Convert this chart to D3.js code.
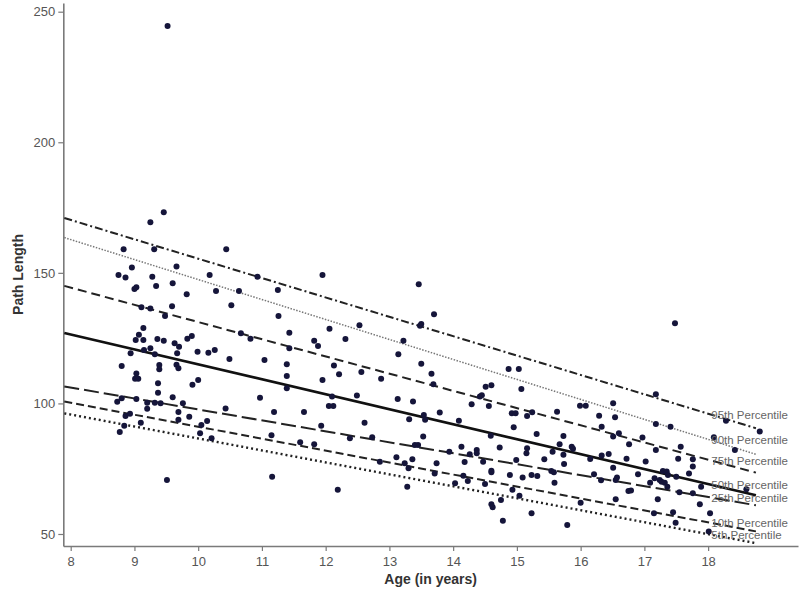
<!DOCTYPE html>
<html>
<head>
<meta charset="utf-8">
<script src="https://cdn.jsdelivr.net/npm/d3@7"></script>
<style>
    body { margin: 0; background: #fff; }
    svg { display: block; font-family: "Liberation Sans", Arial, sans-serif; }
</style>
</head>
<body>
<svg id="chart" width="800" height="596"></svg>
<script>
// percentile regression lines: value at the left edge (age 7.9) and at the right end (age 18.75)
var percentiles = ["95th", "90th", "75th", "50th", "25th", "10th", "5th"];
var lineStartAge = 7.9;
var lineEndAge = 18.75;
var lineStart = [171, 163.5, 145, 127, 106.5, 100.7, 96.2];
var lineEnd = [90.5, 80.5, 73.5, 64.8, 61, 51, 46.5];
var labelAge = 18.05;

var xTicks = [8, 9, 10, 11, 12, 13, 14, 15, 16, 17, 18];
var yTicks = [50, 100, 150, 200, 250];

// observed subjects: [age, path length]
var points = [
    [9.52,244.5],[9.46,173.2],[9.25,169.4],[8.83,159],[9.31,159],[10.44,159],
    [8.96,152.0],[9.66,152.4],[8.75,149.2],[8.86,148.2],[9.28,148.5],[10.18,149.2],[10.93,148.5],
    [9.60,146.0],[9.00,143.8],[9.03,144.5],[9.34,145.0],[9.82,141.8],[10.28,143.0],[10.64,143.0],
    [11.25,143.4],[10.52,137.6],[9.59,137.2],[9.11,136.8],[9.25,136.3],[9.48,133.5],[11.26,133.5],
    [9.14,128.9],[9.07,126.3],[9.02,124.3],[9.14,124.3],[9.36,124.7],[9.46,124.0],[9.63,123.0],
    [9.70,121.7],[9.83,124.8],[9.90,125.8],[9.25,121.1],[9.15,120.5],[8.94,119.2],[9.32,118.8],
    [9.67,119.2],[9.99,119.8],[10.16,119.4],[10.26,120.5],[11.43,127.1],[11.43,121.1],[10.82,124.8],
    [10.67,126.9],[10.49,117.0],[11.04,116.6],[8.80,114.3],[9.39,114.7],[9.39,113.1],[9.66,114.8],
    [9.69,113.5],[11.39,115.0],[9.03,111.5],[9.01,109.4],[9.06,109.4],[11.39,110.5],[9.37,107.7],
    [9.37,104.1],[10.00,109.0],[9.91,107.1],[11.39,105.8],[10.97,102.2],[9.60,102.4],[9.03,101.7],
    [8.80,102.0],
    [8.73,100.6],[9.20,100.3],[9.20,98.0],[9.32,100.3],[9.41,100.1],[9.76,100.1],[9.69,96.7],
    [9.69,93.7],[9.86,94.9],[8.86,95.2],[8.93,96.0],[8.84,91.4],[8.77,89.1],[9.10,92.6],[10.05,91.7],
    [10.14,93.3],[10.03,88.6],[10.21,86.7],[10.43,98.1],[9.51,70.7],[11.19,96.7],[11.66,96.7],
    [11.15,87.8],[11.60,85.1],[11.16,71.9],
    [11.95,149.2],[13.46,145.6],[13.70,134.1],[12.53,129.9],[13.50,130.4],[13.48,129.7],[12.06,128.6],
    [11.82,124.0],[11.88,122.0],[12.31,124.7],[13.22,124.0],[13.14,118.8],[12.13,114.5],[12.21,111.2],
    [12.56,112.0],[13.50,115.2],[13.66,111.4],[13.69,107.3],[12.87,109.4],[11.95,109.0],[14.87,113.2],
    [15.03,113.2],[14.51,106.4],[14.60,107.0],[15.07,105.5],[14.42,102.6],[14.45,103.1],[12.49,103.0],
    [12.10,102.6],[12.05,99.0],[12.12,99.0],[13.13,101.7],[13.37,100.7],[14.29,99.7],[14.56,99.0],
    [14.92,96.2],[14.98,96.2],[15.16,95.2],[15.24,96.6],[13.54,95.6],[13.56,93.7],[13.79,96.5],
    [13.31,93.9],[14.09,93.4],[12.61,92.6],[11.93,91.4],[14.95,90.9],[15.31,88.3],[14.59,87.6],
    [13.53,87.3],[12.38,86.7],[12.73,87.0],[11.82,84.4],[13.40,84.1],[13.45,84.1],[14.13,83.4],
    [14.73,83.1],[15.16,82.8],
    [15.15,80.9],[14.37,82.2],[14.37,80.9],[14.26,80.5],[13.94,81.5],[14.47,77.7],[14.18,77.6],
    [13.74,77.1],[13.36,78.6],[13.11,79.4],[12.85,77.7],[13.24,77.1],[13.30,75.2],[13.71,73.2],
    [13.28,68.1],[12.19,66.9],[14.03,69.4],[14.16,72.3],[14.23,70.3],[14.50,69.1],[14.60,74.2],
    [14.60,73.6],[14.89,72.6],[15.09,71.6],[14.99,78.3],[15.23,72.6],[15.32,72.2],[15.43,78.6],
    [14.93,66.9],[15.04,64.6],[14.60,61.4],[14.62,60.2],[14.75,63.0],[14.78,55.1],[15.23,57.9],
    [17.48,130.7],[17.18,103.5],[15.99,99.1],[16.08,99.1],[16.51,100.1],[16.29,95.3],[16.54,94.7],
    [15.63,96.8],[17.18,92.1],[17.41,91.1],[18.28,93.4],[16.33,91.1],[15.73,87.5],[16.60,88.6],
    [16.51,87.3],[16.97,86.9],[16.76,84.4],[15.67,84.4],[15.86,83.4],[15.88,82.6],[17.57,83.4],
    [17.18,82.2],[15.56,81.5],[18.09,87.0],[18.42,82.2],[18.81,89.2],[15.73,80.3],
    [17.76,78.6],[17.76,75.8],[17.70,73.2],[16.33,80.1],[16.44,80.6],[16.72,78.8],[17.02,77.8],
    [17.53,78.8],[16.15,78.7],[16.51,75.4],[15.74,76.8],[15.54,74.1],[15.58,73.6],[16.21,72.9],
    [16.90,72.9],[17.50,71.9],[17.29,74.1],[17.35,73.9],[17.37,72.6],[17.24,70.7],[17.27,70.0],
    [16.32,70.6],[16.55,70.7],[16.57,71.6],[17.09,69.6],[17.32,69.6],[17.36,68.1],[17.55,66.0],
    [17.76,65.6],[15.59,69.6],[16.75,66.5],[16.79,66.7],[16.55,63.3],[17.21,63.3],[17.87,61.4],
    [17.45,58.3],[16.00,62.0],[15.79,53.4],[17.49,54.3],[18.03,57.9],[18.01,51.0],[17.16,71.3],
    [17.89,68.1],[18.60,67.1],[17.15,57.9]
];

var dashes = {
    "95th": {dash: "8,3,2,3", width: 2, color: "#222"},
    "90th": {dash: "1.5,1.5", width: 1.5, color: "#777"},
    "75th": {dash: "9,5", width: 2, color: "#222"},
    "50th": {dash: null, width: 2.6, color: "#111"},
    "25th": {dash: "15,5", width: 2, color: "#222"},
    "10th": {dash: "8,4", width: 2, color: "#222"},
    "5th":  {dash: "2,3", width: 2.4, color: "#222"}
};

function drawChart(){
    var svg = d3.select("#chart");
    var x = d3.scaleLinear().domain([7.884, 19.41]).range([63.3, 798]);
    var y = d3.scaleLinear().domain([45.4, 253.33]).range([546, 3]);

    var xAxis = svg.append("g")
        .attr("transform", "translate(0," + y.range()[0] + ")")
        .call(d3.axisBottom(x).tickValues(xTicks).tickFormat(d3.format("d"))
              .tickSize(5).tickSizeOuter(0).tickPadding(6));

    var yAxis = svg.append("g")
        .attr("transform", "translate(" + x.range()[0] + ",0)")
        .call(d3.axisLeft(y).tickValues(yTicks).tickSize(5).tickSizeOuter(0).tickPadding(3));

    [xAxis, yAxis].forEach(function(g){
        g.select(".domain").attr("stroke", "#7a7a7a").attr("stroke-width", 1.6);
        g.selectAll(".tick line").attr("stroke", "#7a7a7a").attr("stroke-width", 1.2);
        g.selectAll(".tick text")
            .attr("fill", "#555")
            .style("font-size", "13px")
            .style("font-family", "'Liberation Sans', Arial, sans-serif");
    });

    // percentile lines
    var lines = percentiles.map(function(p, i){
        return {name: p, a: [lineStartAge, lineStart[i]], b: [lineEndAge, lineEnd[i]]};
    });
    var valueAt = function(d, age){
        var t = (age - d.a[0]) / (d.b[0] - d.a[0]);
        return d.a[1] + t * (d.b[1] - d.a[1]);
    };

    svg.append("g")
        .selectAll("line")
        .data(lines)
        .join("line")
            .attr("x1", d => x(d.a[0]))
            .attr("y1", d => y(d.a[1]))
            .attr("x2", d => x(d.b[0]))
            .attr("y2", d => y(d.b[1]))
            .attr("stroke", d => dashes[d.name].color)
            .attr("stroke-width", d => dashes[d.name].width)
            .attr("stroke-dasharray", d => dashes[d.name].dash);

    svg.append("g")
        .selectAll("circle")
        .data(points)
        .join("circle")
            .attr("cx", d => x(d[0]))
            .attr("cy", d => y(d[1]))
            .attr("r", 3)
            .attr("fill", "#15153a");

    svg.append("g")
        .selectAll("text")
        .data(lines)
        .join("text")
            .attr("x", x(labelAge))
            .attr("y", d => y(valueAt(d, labelAge)))
            .attr("dy", "0.35em")
            .attr("fill", "#666")
            .style("font-size", "11.5px")
            .text(d => d.name + " Percentile");

    svg.append("text")
        .attr("x", (x.range()[0] + x.range()[1]) / 2)
        .attr("y", 584)
        .style("text-anchor", "middle")
        .style("font-size", "14px")
        .style("font-weight", "bold")
        .attr("fill", "#333")
        .text("Age (in years)");

    svg.append("text")
        .attr("transform", "rotate(-90)")
        .attr("x", -(y.range()[0] + y.range()[1]) / 2)
        .attr("y", 23)
        .style("text-anchor", "middle")
        .style("font-size", "14px")
        .style("font-weight", "bold")
        .attr("fill", "#333")
        .text("Path Length");
}

drawChart();
</script>
</body>
</html>
